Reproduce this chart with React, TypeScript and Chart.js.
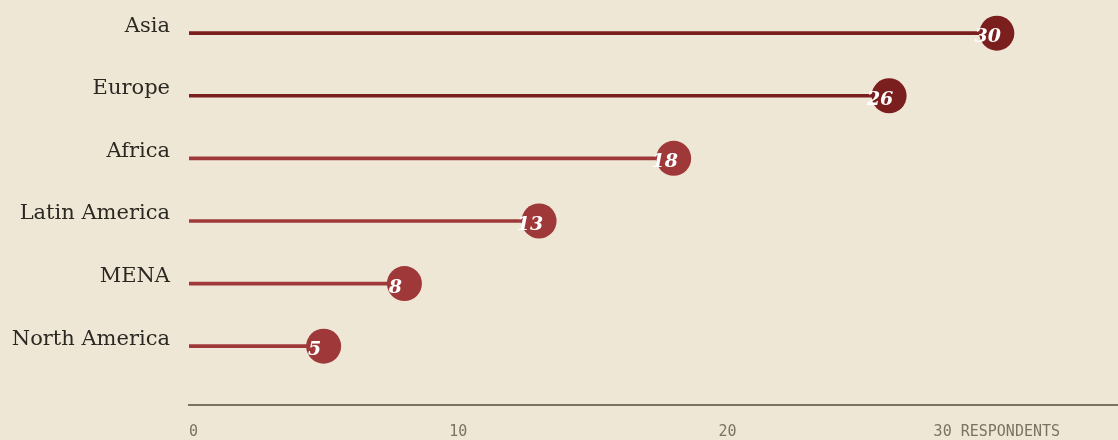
import { useEffect, useRef } from 'react';
import { Chart, registerables } from 'chart.js';
Chart.register(...registerables);

const categories = ['Asia', 'Europe', 'Africa', 'Latin America', 'MENA', 'North America'];
const respondents = [30, 26, 18, 13, 8, 5];
const categoryColors = ['#7b1e1e', '#7b1e1e', '#9f3838', '#9f3838', '#9f3838', '#9f3838'];
const xTickValues = [0, 10, 20, 30];
const xTickLabels = ['0', '10', '20', '30 RESPONDENTS'];
const X_MAX = 34.5;

export default function App() {
  const ref = useRef<HTMLCanvasElement>(null);
  useEffect(() => {
    document.body.style.margin = '0';
    document.body.style.background = '#efe7d6';
    const canvas = ref.current!;
    const points = respondents.map((v, i) => ({ x: v, y: i }));
    const valueLabels = {
      id: 'valueLabels',
      afterDatasetsDraw(chart: any) {
        const meta = chart.getDatasetMeta(0);
        const c = chart.ctx;
        c.save();
        c.font = 'italic bold 19px "DejaVu Serif"';
        c.fillStyle = '#ffffff';
        c.textAlign = 'center';
        c.textBaseline = 'middle';
        meta.data.forEach((el: any, i: number) => {
          c.fillText(String(respondents[i]), el.x - 9, el.y + 4);
        });
        c.restore();
      },
    };
    const chart = new Chart(canvas, {
      type: 'bar',
      data: {
        datasets: [
          {
            type: 'scatter',
            data: points,
            pointRadius: 17.5,
            pointHoverRadius: 17.5,
            backgroundColor: categoryColors,
            pointBackgroundColor: categoryColors,
            borderWidth: 0,
            pointBorderWidth: 0,
            order: 0,
          } as any,
          {
            type: 'bar',
            data: points,
            backgroundColor: categoryColors,
            barThickness: 3,
            borderWidth: 0,
            order: 1,
          } as any,
        ],
      },
      options: {
        indexAxis: 'y',
        responsive: false,
        animation: false,
        events: [],
        plugins: { legend: { display: false }, tooltip: { enabled: false } },
        layout: { padding: 0, autoPadding: false },
        scales: {
          x: {
            type: 'linear',
            min: 0,
            max: X_MAX,
            offset: false,
            grid: { display: false, drawTicks: false, offset: false },
            border: { display: true, color: '#7a7361', width: 2 },
            afterBuildTicks(s: any) {
              s.ticks = [...xTickValues.map((v) => ({ value: v })), { value: X_MAX }];
            },
            afterFit(s: any) {
              s.paddingLeft = 0;
              s.paddingRight = 0;
              s.height = 35;
            },
            ticks: {
              align: 'inner',
              padding: 20,
              maxRotation: 0,
              autoSkip: false,
              color: '#7a7361',
              font: { family: '"DejaVu Sans Mono"', size: 15, lineHeight: 1 },
              callback(v: any) {
                const i = xTickValues.indexOf(v);
                return i >= 0 ? xTickLabels[i] : '';
              },
            },
          },
          y: {
            type: 'linear',
            reverse: true,
            min: -0.53,
            max: 5.94,
            offset: false,
            grid: { display: false, drawTicks: false, offset: false },
            border: { display: false },
            afterBuildTicks(s: any) {
              s.ticks = categories.map((_, i) => ({ value: i }));
            },
            afterFit(s: any) {
              s.width = 189;
              s.paddingTop = 0;
              s.paddingBottom = 0;
            },
            ticks: {
              padding: 19,
              labelOffset: -7,
              autoSkip: false,
              color: '#2b2822',
              font: { family: '"DejaVu Serif"', size: 21 },
              callback(v: any) {
                return categories[v] ?? '';
              },
            },
          },
        },
      } as any,
      plugins: [valueLabels],
    });
    return () => chart.destroy();
  }, []);
  return <canvas ref={ref} width={1118} height={440} style={{ display: 'block' }} />;
}
